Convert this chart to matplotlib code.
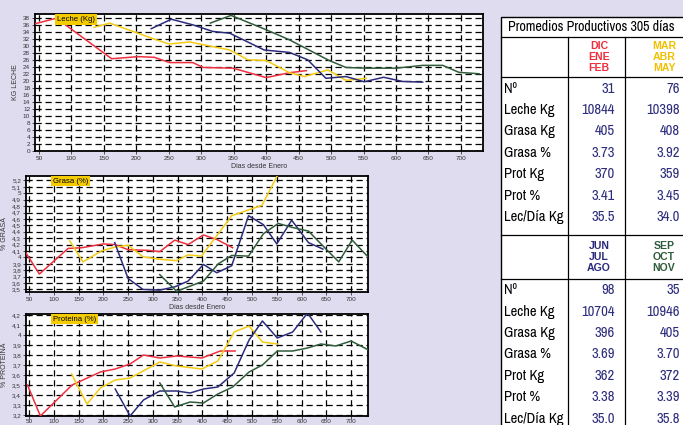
import matplotlib
matplotlib.use("Agg")
import matplotlib.pyplot as plt
from matplotlib import font_manager
from matplotlib.lines import Line2D
from matplotlib.patches import Rectangle

W, H = 683, 425

# colores de cada trimestre de parto
grupos = ["DIC\nENE\nFEB", "MAR\nABR\nMAY", "JUN\nJUL\nAGO", "SEP\nOCT\nNOV"]
colores = ["#ef2f3f", "#f4cb12", "#2c2c7c", "#2f5c3a"]

# Leche (Kg) por días desde enero
leche_dias = [
    [44, 77, 162, 203, 228, 251, 287, 303, 349, 400, 436, 462],
    [135, 159, 231, 251, 282, 344, 372, 400, 436, 459, 495, 523, 554],
    [223, 254, 287, 318, 344, 397, 436, 464, 492, 523, 551, 581, 610, 641],
    [314, 346, 400, 436, 497, 523, 554, 600, 641, 672, 697, 728],
]
leche_kg = [
    [36.4, 38.0, 26.4, 27.0, 26.8, 25.3, 25.3, 23.9, 23.7, 21.0, 22.4, 23.0],
    [35.4, 36.6, 31.8, 30.6, 31.2, 28.9, 26.1, 25.9, 22.4, 21.3, 23.2, 20.2, 20.8],
    [35.0, 37.7, 36.1, 34.2, 33.7, 28.9, 28.2, 26.1, 20.8, 21.3, 19.8, 21.1, 19.9, 19.7],
    [36.6, 38.8, 34.7, 31.8, 25.9, 23.9, 23.7, 23.7, 24.5, 24.5, 22.5, 22.1],
]

# Grasa (%)
grasa_dias = [
    [43, 71, 129, 156, 200, 223, 250, 290, 314, 344, 371, 402, 429, 461],
    [132, 159, 196, 223, 250, 280, 314, 348, 371, 398, 459, 500, 520, 556],
    [223, 250, 280, 314, 344, 371, 402, 429, 459, 493, 523, 550, 580, 614, 643],
    [314, 348, 371, 402, 432, 459, 493, 523, 553, 580, 614, 648, 675, 702, 735],
]
grasa_pct = [
    [4.08, 3.74, 4.14, 4.15, 4.21, 4.20, 4.12, 4.11, 4.09, 4.27, 4.20, 4.35, 4.28, 4.15],
    [4.26, 3.93, 4.10, 4.16, 4.19, 4.01, 3.97, 3.95, 4.04, 4.02, 4.65, 4.76, 4.81, 5.35],
    [4.23, 3.67, 3.50, 3.49, 3.54, 3.63, 3.89, 3.76, 3.87, 4.65, 4.51, 4.21, 4.58, 4.23, 4.13],
    [3.73, 3.47, 3.54, 3.63, 3.90, 4.03, 4.02, 4.37, 4.53, 4.47, 4.41, 4.14, 3.93, 4.27, 4.00],
]

# Proteina (%)
prot_dias = [
    [47, 73, 137, 194, 224, 254, 281, 314, 348, 399, 436, 466],
    [136, 167, 194, 224, 254, 314, 348, 399, 431, 464, 494, 521, 551],
    [224, 254, 281, 314, 348, 375, 402, 431, 464, 494, 521, 551, 582, 612, 639],
    [314, 344, 375, 402, 431, 461, 494, 521, 551, 582, 612, 639, 669, 700, 735],
]
prot_pct = [
    [3.50, 3.19, 3.50, 3.63, 3.66, 3.71, 3.80, 3.77, 3.79, 3.77, 3.84, 3.84],
    [3.61, 3.31, 3.47, 3.55, 3.57, 3.73, 3.69, 3.66, 3.74, 4.03, 4.09, 3.93, 3.91],
    [3.46, 3.19, 3.35, 3.44, 3.44, 3.42, 3.46, 3.48, 3.62, 3.95, 4.14, 3.97, 4.03, 4.22, 4.03],
    [3.52, 3.28, 3.33, 3.32, 3.41, 3.48, 3.63, 3.70, 3.84, 3.84, 3.87, 3.91, 3.89, 3.94, 3.85],
]

# tabla de promedios 305 días
filas = ["Nº", "Leche Kg", "Grasa Kg", "Grasa %", "Prot Kg", "Prot %", "Lec/Día Kg"]
tabla = [
    ["31", "10844", "405", "3.73", "370", "3.41", "35.5"],
    ["76", "10398", "408", "3.92", "359", "3.45", "34.0"],
    ["98", "10704", "396", "3.69", "362", "3.38", "35.0"],
    ["35", "10946", "405", "3.70", "372", "3.39", "35.8"],
]

x_ticks = list(range(50, 701, 50))

# fuente angosta para la tabla si existe; si no, Liberation Sans más chica
installed = {f.name for f in font_manager.fontManager.ttflist}
narrow, tsize, title_size = "Liberation Sans", 8.2, 8.0
for cand in ["Liberation Sans Narrow", "Arial Narrow", "Archivo Narrow"]:
    if cand in installed:
        narrow, tsize, title_size = cand, 10.5, 10.1
        break
plt.rcParams["font.family"] = ["Liberation Sans", "DejaVu Sans"]

BG = "#e0dcf0"
fig = plt.figure(figsize=(W / 100, H / 100), dpi=100, facecolor=BG)


def px_axes(x0, y0, x1, y1):
    return fig.add_axes([x0 / W, 1 - y1 / H, (x1 - x0) / W, (y1 - y0) / H])


def fx(x):
    return x / W


def fy(y):
    return 1 - y / H


def coma(v):
    return f"{v:g}".replace(".", ",")


def panel(ax, dias, vals, ylim, yticks, ylabel, titulo, tx, comas, xlabel, xpad=1.5):
    for d, v, c in zip(dias, vals, colores):
        ax.plot(d, v, color=c, lw=1.1, zorder=3)
    ax.set_facecolor("white")
    ax.set_xlim(44, 734)
    ax.set_ylim(*ylim)
    ax.set_xticks(x_ticks)
    ax.set_yticks(yticks)
    if comas:
        ax.set_yticklabels([coma(v) for v in yticks])
    ax.tick_params(labelsize=4.6, length=2, width=0.6, pad=1.5, colors="#333333")
    ax.tick_params(axis="x", pad=xpad)
    ax.grid(True, color="black", linestyle=(0, (5, 3)), linewidth=0.9)
    for s in ax.spines.values():
        s.set_linewidth(1.3)
    ax.set_ylabel(ylabel, fontsize=5, color="#333333", labelpad=3)
    if xlabel:
        ax.set_xlabel("Dias desde Enero", fontsize=5, color="#333333", labelpad=1.5)
    ax.text(tx, 0.985, titulo, transform=ax.transAxes, fontsize=5.6, va="top", ha="left",
            zorder=5, bbox=dict(facecolor="#f5cc00", edgecolor="none", pad=1.2))


ax1 = px_axes(35, 14, 483, 151)
panel(ax1, leche_dias, leche_kg, (0, 39.2), list(range(0, 39, 2)), "KG LECHE",
      "Leche (Kg)", 0.049, False, True)

ax2 = px_axes(26, 176, 368, 292)
panel(ax2, grasa_dias, grasa_pct, (3.46, 5.27), [round(3.5 + 0.1 * i, 1) for i in range(18)],
      "% GRASA", "Grasa (%)", 0.079, True, True)

ax3 = px_axes(26, 314, 368, 416)
panel(ax3, prot_dias, prot_pct, (3.19, 4.21), [round(3.2 + 0.1 * i, 1) for i in range(11)],
      "% PROTEINA", "Proteina (%)", 0.079, True, False, xpad=0.3)

# tabla
tl, tr, tt, tb = 501, 690, 17.3, 440
c1, c2 = 568, 625
fig.patches.append(Rectangle((fx(tl), fy(tb)), fx(tr) - fx(tl), fy(tt) - fy(tb),
                             transform=fig.transFigure, facecolor="white",
                             edgecolor="black", lw=1.0, zorder=0))
for y in [36.7, 77.3, 235, 279]:
    fig.add_artist(Line2D([fx(tl), fx(tr)], [fy(y), fy(y)], color="black", lw=0.9))
for x in [c1, c2]:
    fig.add_artist(Line2D([fx(x), fx(x)], [fy(36.7), fy(tb)], color="black", lw=0.9))

fig.text(fx(508), fy(27), "Promedios Productivos 305 días", fontsize=title_size,
         family=narrow, va="center", ha="left")

secciones = [(36.7, 77.3, 0), (235, 279, 2)]
for top, bot, g0 in secciones:
    for k, xr in enumerate([c2, tr]):
        gi = g0 + k
        fig.text(fx(xr - 26), fy((top + bot) / 2), grupos[gi], fontsize=7.6,
                 family="Liberation Sans", weight="bold",
                 color=colores[gi] if gi != 1 else "#f0c000",
                 ha="center", va="center", linespacing=1.15)
        for r, val in enumerate(tabla[gi]):
            yy = bot + 11.3 + r * 21.4
            fig.text(fx(xr - 10), fy(yy), val, fontsize=tsize, family=narrow,
                     color="#2c2c7c", ha="right", va="center")
    for r, lab in enumerate(filas):
        yy = bot + 11.3 + r * 21.4
        fig.text(fx(504), fy(yy), lab, fontsize=tsize, family=narrow, ha="left", va="center")

fig.savefig("out.png", dpi=100, facecolor=BG)
